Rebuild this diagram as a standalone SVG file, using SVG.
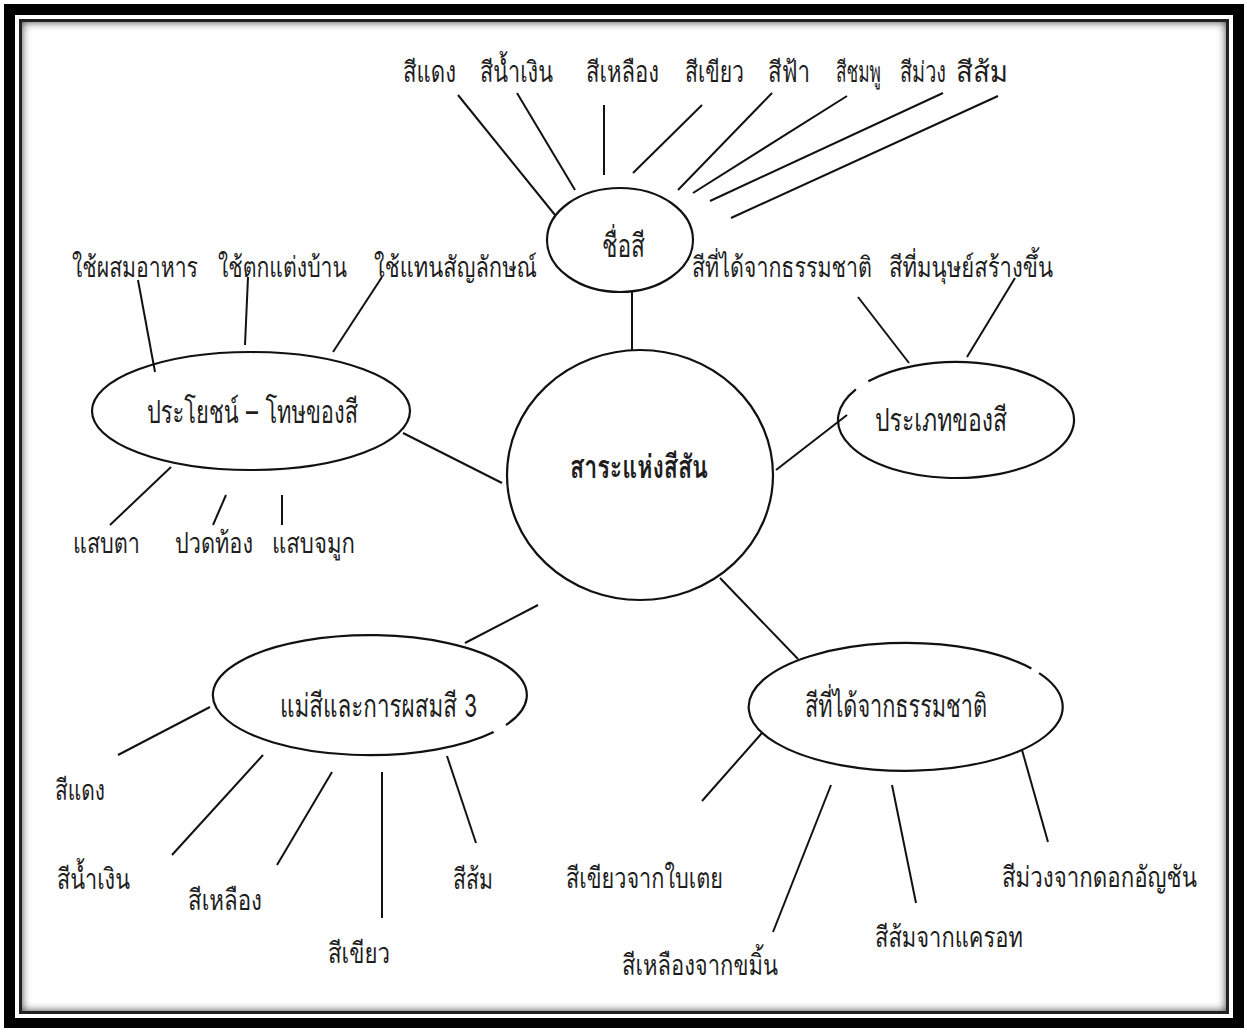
<svg xmlns="http://www.w3.org/2000/svg" width="1247" height="1035" viewBox="0 0 1247 1035">
<style>
text{font-family:"Laksaman","TH Sarabun New","Loma","Noto Sans Thai","Garuda","Waree","DejaVu Sans",sans-serif;fill:#1e1e1e;font-size:21px;}
.node text{font-size:32px;}
.top text{font-size:20px;}
.b{font-weight:bold;}
.shape{fill:none;stroke:#111;stroke-width:2.2;}
#connectors line{stroke:#111;stroke-width:2;stroke-linecap:butt;}
</style>
<defs>
<clipPath id="innerClip"><rect x="22" y="22" width="1204" height="989"/></clipPath>
<filter id="soft" x="-5%" y="-5%" width="110%" height="110%"><feGaussianBlur stdDeviation="4"/></filter>
</defs>
<g id="frame">
<rect x="4" y="4" width="1240" height="1024" fill="#000"/>
<rect x="15" y="15" width="1218" height="1003" fill="#fff"/>
<rect x="19" y="19" width="1210" height="995" fill="#222"/>
<rect x="22" y="22" width="1204" height="989" fill="#fff"/>
<g clip-path="url(#innerClip)"><rect x="17" y="17" width="1214" height="999" fill="none" stroke="#444" stroke-width="10" filter="url(#soft)"/></g>
</g>
<g id="connectors">
<line x1="632" y1="292" x2="632" y2="350"/>
<line x1="403" y1="433" x2="502" y2="483"/>
<line x1="776" y1="470" x2="847" y2="415"/>
<line x1="538" y1="605" x2="465" y2="643"/>
<line x1="720" y1="578" x2="798" y2="659"/>
<line x1="458" y1="95" x2="555" y2="215"/>
<line x1="517" y1="93" x2="575" y2="190"/>
<line x1="604" y1="105" x2="604" y2="175"/>
<line x1="702" y1="105" x2="633" y2="173"/>
<line x1="772" y1="93" x2="678" y2="190"/>
<line x1="847" y1="96" x2="693" y2="193"/>
<line x1="943" y1="93" x2="710" y2="201"/>
<line x1="998" y1="96" x2="731" y2="218"/>
<line x1="138" y1="280" x2="155" y2="372"/>
<line x1="248" y1="277" x2="245" y2="345"/>
<line x1="382" y1="277" x2="333" y2="352"/>
<line x1="171" y1="467" x2="110" y2="525"/>
<line x1="226" y1="495" x2="213" y2="525"/>
<line x1="282" y1="495" x2="282" y2="525"/>
<line x1="858" y1="297" x2="909" y2="363"/>
<line x1="1015" y1="278" x2="967" y2="357"/>
<line x1="210" y1="707" x2="118" y2="755"/>
<line x1="263" y1="755" x2="172" y2="855"/>
<line x1="332" y1="772" x2="277" y2="865"/>
<line x1="382" y1="772" x2="382" y2="918"/>
<line x1="447" y1="756" x2="476" y2="843"/>
<line x1="762" y1="733" x2="702" y2="801"/>
<line x1="831" y1="785" x2="773" y2="932"/>
<line x1="892" y1="785" x2="916" y2="903"/>
<line x1="1022" y1="750" x2="1048" y2="842"/>
</g>
<g id="center" class="node">
<ellipse class="shape" cx="640" cy="475" rx="133" ry="125"/>
<text class="b" x="570" y="478" textLength="138" lengthAdjust="spacingAndGlyphs">สาระแห่งสีสัน</text>
</g>
<g id="color-names" class="node">
<ellipse class="shape" cx="620" cy="240" rx="73" ry="52"/>
<text x="602" y="257" textLength="43" lengthAdjust="spacingAndGlyphs">ชื่อสี</text>
</g>
<g id="benefits" class="node">
<ellipse class="shape" cx="251" cy="411" rx="159" ry="59"/>
<text x="147" y="423" textLength="211" lengthAdjust="spacingAndGlyphs">ประโยชน์ – โทษของสี</text>
</g>
<g id="types" class="node">
<path class="shape" d="M868.3 381.2 A118 58 0 1 1 855.9 389.3"/>
<text x="875" y="431" textLength="132" lengthAdjust="spacingAndGlyphs">ประเภทของสี</text>
</g>
<g id="primary" class="node">
<path class="shape" d="M493.7 732 A157 60 0 1 1 506 725"/>
<text x="280" y="717" textLength="197" lengthAdjust="spacingAndGlyphs">แม่สีและการผสมสี 3</text>
</g>
<g id="natural" class="node">
<path class="shape" d="M1039.1 673.1 A157 64 0 1 1 1031.4 668.5"/>
<text x="805" y="717" textLength="182" lengthAdjust="spacingAndGlyphs">สีที่ได้จากธรรมชาติ</text>
</g>
<g class="top">
<g id="leaf-red"><text transform="translate(403 82) scale(1 1.45)" textLength="53" lengthAdjust="spacingAndGlyphs">สีแดง</text></g>
<g id="leaf-blue"><text transform="translate(480 82) scale(1 1.45)" textLength="73" lengthAdjust="spacingAndGlyphs">สีน้ำเงิน</text></g>
<g id="leaf-yellow"><text transform="translate(586 82) scale(1 1.45)" textLength="73" lengthAdjust="spacingAndGlyphs">สีเหลือง</text></g>
<g id="leaf-green"><text transform="translate(685 82) scale(1 1.45)" textLength="59" lengthAdjust="spacingAndGlyphs">สีเขียว</text></g>
<g id="leaf-sky"><text transform="translate(768 82) scale(1 1.45)" textLength="42" lengthAdjust="spacingAndGlyphs">สีฟ้า</text></g>
<g id="leaf-pink"><text transform="translate(836 82) scale(1 1.45)" textLength="45" lengthAdjust="spacingAndGlyphs">สีชมพู</text></g>
<g id="leaf-purple"><text transform="translate(900 82) scale(1 1.45)" textLength="46" lengthAdjust="spacingAndGlyphs">สีม่วง</text></g>
<g id="leaf-orange"><text transform="translate(956 82) scale(1 1.45)" textLength="52" lengthAdjust="spacingAndGlyphs">สีส้ม</text></g>
</g>
<g id="leaf-food"><text transform="translate(72 277) scale(1 1.35)" textLength="126" lengthAdjust="spacingAndGlyphs">ใช้ผสมอาหาร</text></g>
<g id="leaf-decor"><text transform="translate(218 277) scale(1 1.35)" textLength="129" lengthAdjust="spacingAndGlyphs">ใช้ตกแต่งบ้าน</text></g>
<g id="leaf-symbol"><text transform="translate(374 277) scale(1 1.35)" textLength="163" lengthAdjust="spacingAndGlyphs">ใช้แทนสัญลักษณ์</text></g>
<g id="leaf-type-natural"><text transform="translate(692 277) scale(1 1.35)" textLength="180" lengthAdjust="spacingAndGlyphs">สีที่ได้จากธรรมชาติ</text></g>
<g id="leaf-type-man"><text transform="translate(889 277) scale(1 1.35)" textLength="164" lengthAdjust="spacingAndGlyphs">สีที่มนุษย์สร้างขึ้น</text></g>
<g id="leaf-eyes"><text transform="translate(73 553) scale(1 1.38)" textLength="67" lengthAdjust="spacingAndGlyphs">แสบตา</text></g>
<g id="leaf-stomach"><text transform="translate(175 553) scale(1 1.38)" textLength="78" lengthAdjust="spacingAndGlyphs">ปวดท้อง</text></g>
<g id="leaf-nose"><text transform="translate(272 553) scale(1 1.38)" textLength="83" lengthAdjust="spacingAndGlyphs">แสบจมูก</text></g>
<g id="leaf-p-red"><text transform="translate(55 800) scale(1 1.38)" textLength="50" lengthAdjust="spacingAndGlyphs">สีแดง</text></g>
<g id="leaf-p-blue"><text transform="translate(57 889) scale(1 1.38)" textLength="73" lengthAdjust="spacingAndGlyphs">สีน้ำเงิน</text></g>
<g id="leaf-p-yellow"><text transform="translate(188 910) scale(1 1.38)" textLength="74" lengthAdjust="spacingAndGlyphs">สีเหลือง</text></g>
<g id="leaf-p-green"><text transform="translate(328 963) scale(1 1.38)" textLength="62" lengthAdjust="spacingAndGlyphs">สีเขียว</text></g>
<g id="leaf-p-orange"><text transform="translate(453 889) scale(1 1.38)" textLength="40" lengthAdjust="spacingAndGlyphs">สีส้ม</text></g>
<g id="leaf-n-pandan"><text transform="translate(566 888) scale(1 1.38)" textLength="157" lengthAdjust="spacingAndGlyphs">สีเขียวจากใบเตย</text></g>
<g id="leaf-n-turmeric"><text transform="translate(622 975) scale(1 1.38)" textLength="156" lengthAdjust="spacingAndGlyphs">สีเหลืองจากขมิ้น</text></g>
<g id="leaf-n-carrot"><text transform="translate(875 947) scale(1 1.38)" textLength="148" lengthAdjust="spacingAndGlyphs">สีส้มจากแครอท</text></g>
<g id="leaf-n-pea"><text transform="translate(1002 887) scale(1 1.38)" textLength="195" lengthAdjust="spacingAndGlyphs">สีม่วงจากดอกอัญชัน</text></g>
</svg>
